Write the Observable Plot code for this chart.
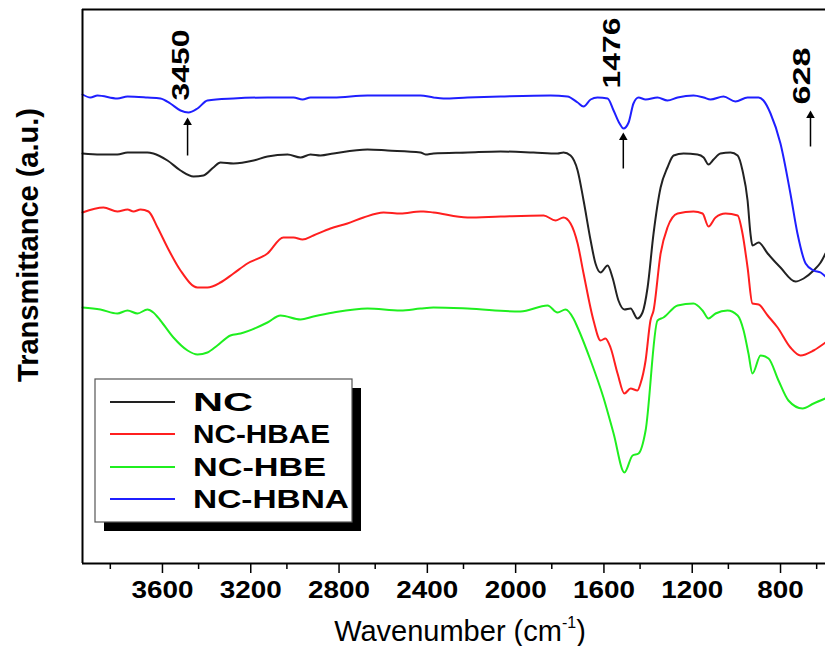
<!DOCTYPE html>
<html>
<head>
<meta charset="utf-8">
<script src="https://cdn.jsdelivr.net/npm/d3@7"></script>
<script src="https://cdn.jsdelivr.net/npm/@observablehq/plot@0.6"></script>
<style>
  html, body { margin: 0; padding: 0; background: #fff; }
  #chart { position: relative; width: 825px; height: 646px; }
  svg { font-family: "Liberation Sans", Arial, sans-serif; }
</style>
</head>
<body>
<div id="chart"></div>
<script>
// ---- Data (wavenumber cm-1, transmittance a.u.) ----
const seriesNames = ["NC", "NC-HBAE", "NC-HBE", "NC-HBNA"];
const seriesColors = ["#222222", "#ff1f1f", "#1fef1f", "#1f1fff"];

const blackSpectrum = [[3926,410],[3845,409],[3768,409],[3722,411],[3632,411],[3605,410],[3541,403],[3482,393],[3423,387],[3378,388],[3333,396],[3301,401],[3242,400],[3151,403],[3088,407],[2997,409],[2938,406],[2893,409],[2848,408],[2789,410],[2635,414],[2544,413],[2395,411],[2372,409],[2336,410],[2182,411],[2032,412],[1883,411],[1774,410],[1747,411],[1715,408],[1683,393],[1656,363],[1624,323],[1602,300],[1579,291],[1547,298],[1525,286],[1498,263],[1471,254],[1443,255],[1412,245],[1389,251],[1366,276],[1339,330],[1307,376],[1276,396],[1248,408],[1203,410],[1140,409],[1112,406],[1090,399],[1067,404],[1036,410],[990,411],[958,408],[936,393],[913,363],[900,330],[891,318],[863,321],[822,310],[764,296],[696,282],[659,285],[614,293],[582,301],[560,310]];

const redSpectrum = [[3926,351],[3831,356],[3768,352],[3722,354],[3695,352],[3663,354],[3627,352],[3586,336],[3541,316],[3482,293],[3405,276],[3360,276],[3301,281],[3242,290],[3179,300],[3088,310],[3016,326],[2970,326],[2929,324],[2880,328],[2803,335],[2726,340],[2653,346],[2562,351],[2485,350],[2395,352],[2381,352],[2336,351],[2182,346],[2032,347],[1837,348],[1783,343],[1747,346],[1715,340],[1683,320],[1656,290],[1611,243],[1579,223],[1557,225],[1534,216],[1502,190],[1471,170],[1443,175],[1412,173],[1398,180],[1375,203],[1353,243],[1339,253],[1307,310],[1276,336],[1230,350],[1158,352],[1117,350],[1090,337],[1058,346],[1013,350],[958,348],[936,330],[913,296],[891,260],[863,259],[822,248],[777,236],[719,216],[673,208],[614,213],[560,221]];

const greenSpectrum = [[3926,256],[3845,254],[3768,250],[3722,253],[3677,250],[3632,254],[3605,251],[3573,243],[3514,226],[3450,213],[3405,209],[3360,211],[3315,218],[3256,228],[3210,230],[3088,241],[3029,248],[2938,244],[2880,247],[2789,251],[2635,255],[2485,253],[2395,255],[2336,256],[2182,255],[1942,252],[1819,258],[1774,251],[1738,254],[1702,245],[1683,236],[1624,203],[1566,166],[1520,130],[1471,91],[1434,108],[1407,110],[1375,133],[1321,243],[1294,246],[1230,258],[1158,260],[1117,253],[1090,245],[1058,250],[1004,253],[958,248],[931,233],[909,210],[891,190],[854,208],[818,205],[773,183],[728,163],[664,155],[614,160],[560,165]];

const blueSpectrum = [[3926,469],[3890,466],[3858,468],[3768,465],[3722,467],[3632,466],[3573,465],[3528,460],[3482,453],[3446,451],[3405,455],[3360,463],[3242,465],[3088,466],[2970,466],[2929,464],[2893,466],[2789,466],[2635,468],[2395,468],[2336,466],[2291,465],[2182,466],[2032,467],[1806,468],[1729,467],[1683,461],[1656,457],[1624,464],[1593,466],[1547,465],[1520,453],[1493,440],[1475,435],[1452,441],[1430,460],[1407,466],[1375,464],[1321,466],[1276,463],[1230,466],[1158,468],[1112,466],[1081,464],[1022,467],[968,462],[913,466],[863,466],[841,463],[809,450],[764,420],[719,370],[687,330],[650,300],[614,293],[582,291],[560,287]];

const majorTicks = [3600, 3200, 2800, 2400, 2000, 1600, 1200, 800];
const minorTicks = [3800, 3400, 3000, 2600, 2200, 1800, 1400, 1000, 600];

const arrowW = [3450, 1476, 628];
const arrowTail = [408, 395, 417];
const arrowHead = [441, 426, 448];

const peakLabels = ["3450", "1476", "628"];
const peakLabelW = [3478, 1525, 664];
const peakLabelT = [463, 475, 459];

const xTitle = "Wavenumber (cm";
const xTitleSup = "-1";
const yTitle = "Transmittance (a.u.)";

// ---- Build tables ----
const spectra = [blackSpectrum, redSpectrum, greenSpectrum, blueSpectrum];
const rows = spectra.flatMap((s, i) => s.map(([w, t]) => ({w, t, name: seriesNames[i]})));
const arrows = arrowW.map((w, i) => ({w, t1: arrowTail[i], t2: arrowHead[i]}));
const notes = peakLabels.map((text, i) => ({text, w: peakLabelW[i], t: peakLabelT[i]}));
const xDomain = [3926, 560];
const yDomain = [0, 554];

const chart = Plot.plot({
  width: 825,
  height: 646,
  marginLeft: 82,
  marginRight: 0,
  marginTop: 9,
  marginBottom: 83,
  style: {fontFamily: "'Liberation Sans', Arial, sans-serif", background: "#fff"},
  x: {domain: xDomain, axis: null},
  y: {domain: yDomain, axis: null},
  color: {domain: seriesNames, range: seriesColors},
  marks: [
    Plot.line(rows, {x: "w", y: "t", z: "name", stroke: "name", strokeWidth: 2, curve: "monotone-x"}),
    Plot.ruleY([yDomain[0]], {stroke: "#000", strokeWidth: 2}),
    Plot.ruleY([yDomain[1]], {stroke: "#000", strokeWidth: 2}),
    Plot.ruleX([xDomain[0]], {stroke: "#000", strokeWidth: 2}),
    Plot.axisX({ticks: majorTicks, tickSize: 10, tickPadding: 8, tickFormat: d => String(d), label: null,
      fontSize: 23, fontWeight: "bold", strokeWidth: 1.5, dx: 8, ariaLabel: "major-x"}),
    Plot.axisX({ticks: minorTicks, tickSize: 6, tickFormat: () => "", label: null, strokeWidth: 1.5}),
    Plot.link(arrows, {x1: "w", x2: "w", y1: "t1", y2: "t2", stroke: "#000", strokeWidth: 1.5}),
    Plot.dot(arrows, {x: "w", y: "t2", symbol: "triangle", r: 3.2, fill: "#000", stroke: "none"}),
    Plot.text(notes, {x: "w", y: "t", text: "text", rotate: -90, textAnchor: "start", lineAnchor: "middle",
      fontSize: 23, fontWeight: "bold", fill: "#000", ariaLabel: "peak-notes"})
  ]
});

document.getElementById("chart").appendChild(chart);

// ---- Stretch text to the widths seen in the reference ----
const svg = d3.select(chart);
svg.selectAll("text").each(function () {
  const t = this.textContent;
  if (majorTicks.map(String).includes(t)) {
    d3.select(this).attr("textLength", t.length * 15.5).attr("lengthAdjust", "spacingAndGlyphs");
  } else if (peakLabels.includes(t)) {
    d3.select(this).attr("textLength", t.length === 4 ? 71 : 57).attr("lengthAdjust", "spacingAndGlyphs");
  }
});

// ---- Titles and legend ----
const xt = svg.append("text")
  .attr("x", 460).attr("y", 641)
  .attr("text-anchor", "middle")
  .attr("font-size", 29)
  .attr("fill", "#000");
xt.append("tspan").text(xTitle);
xt.append("tspan").text(xTitleSup).attr("font-size", 16).attr("dy", -13);
xt.append("tspan").text(")").attr("dy", 13);

svg.append("text")
  .attr("transform", "translate(38,245) rotate(-90)")
  .attr("text-anchor", "middle")
  .attr("font-size", 29)
  .attr("font-weight", "bold")
  .attr("fill", "#000")
  .text(yTitle);

const lg = svg.append("g");
lg.append("rect").attr("x", 104).attr("y", 388).attr("width", 257).attr("height", 143).attr("fill", "#000");
lg.append("rect").attr("x", 95).attr("y", 379).attr("width", 257).attr("height", 143)
  .attr("fill", "#fff").attr("stroke", "#555").attr("stroke-width", 1.2);
const rowY = [402, 434, 467, 499];
const labelLen = [60, 137, 133, 156];
seriesNames.forEach((name, i) => {
  lg.append("line").attr("x1", 110).attr("x2", 175).attr("y1", rowY[i]).attr("y2", rowY[i])
    .attr("stroke", seriesColors[i]).attr("stroke-width", 2);
  lg.append("text").attr("x", 193).attr("y", rowY[i] + 9)
    .attr("text-anchor", "start")
    .attr("font-size", 25).attr("font-weight", "bold").attr("fill", "#000")
    .attr("textLength", labelLen[i]).attr("lengthAdjust", "spacingAndGlyphs")
    .text(name);
});
</script>
</body>
</html>
